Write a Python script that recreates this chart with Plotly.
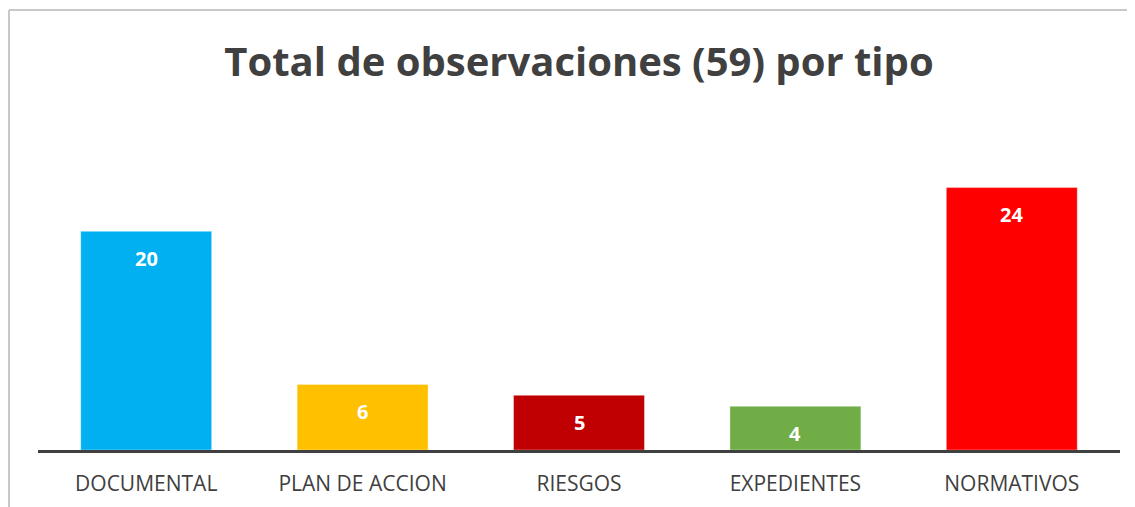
import plotly.graph_objects as go

categories = ["DOCUMENTAL", "PLAN DE ACCION", "RIESGOS", "EXPEDIENTES", "NORMATIVOS"]
values = [20, 6, 5, 4, 24]
colors = ["#00B0F0", "#FFC000", "#C00000", "#70AD47", "#FF0000"]
title_text = "Total de observaciones (59) por tipo"

# page body has an 8px margin, so the figure is sized/offset for it
W, H = 1127, 499
ml, mr, mt, mb = 30, 15, 114, 57
pw, ph = W - ml - mr, H - mt - mb

fig = go.Figure()
fig.add_trace(go.Bar(
    x=categories, y=values,
    marker=dict(color=colors, line=dict(color="rgba(255,255,255,0.35)", width=1)),
    hoverinfo="x+y",
))

# value labels inside the top of each bar
for c, v in zip(categories, values):
    fig.add_annotation(x=c, y=v, text=str(v), showarrow=False, yanchor="middle", yshift=-27,
                       font=dict(family="Open Sans", size=20, color="white", weight="bold"))

# chart frame (top and left edges visible)
fx = (1 - ml) / pw
fy = (H - mb - 2) / ph
fig.add_shape(type="line", xref="paper", yref="paper", x0=fx, x1=fx, y0=-1, y1=fy,
              line=dict(color="#c8c8c8", width=2))
fig.add_shape(type="line", xref="paper", yref="paper", x0=fx, x1=2, y0=fy, y1=fy,
              line=dict(color="#c8c8c8", width=2))

fig.update_layout(
    width=W, height=H,
    margin=dict(l=ml, r=mr, t=mt, b=mb, autoexpand=False),
    plot_bgcolor="white", paper_bgcolor="white",
    bargap=0.395, showlegend=False,
    title=dict(text=title_text, x=0.5, xref="paper", xanchor="center", y=1 - 54 / H, yanchor="middle",
               font=dict(family="Open Sans", size=40, color="#404040", weight="bold")),
)
fig.update_xaxes(showline=True, linecolor="#404040", linewidth=3, ticks="",
                 tickfont=dict(family="Open Sans", size=21, color="#404040"),
                 ticklabelstandoff=13, automargin=False, showgrid=False)
fig.update_yaxes(range=[0, 30], visible=False, showgrid=False)

fig.write_html("out.html")
